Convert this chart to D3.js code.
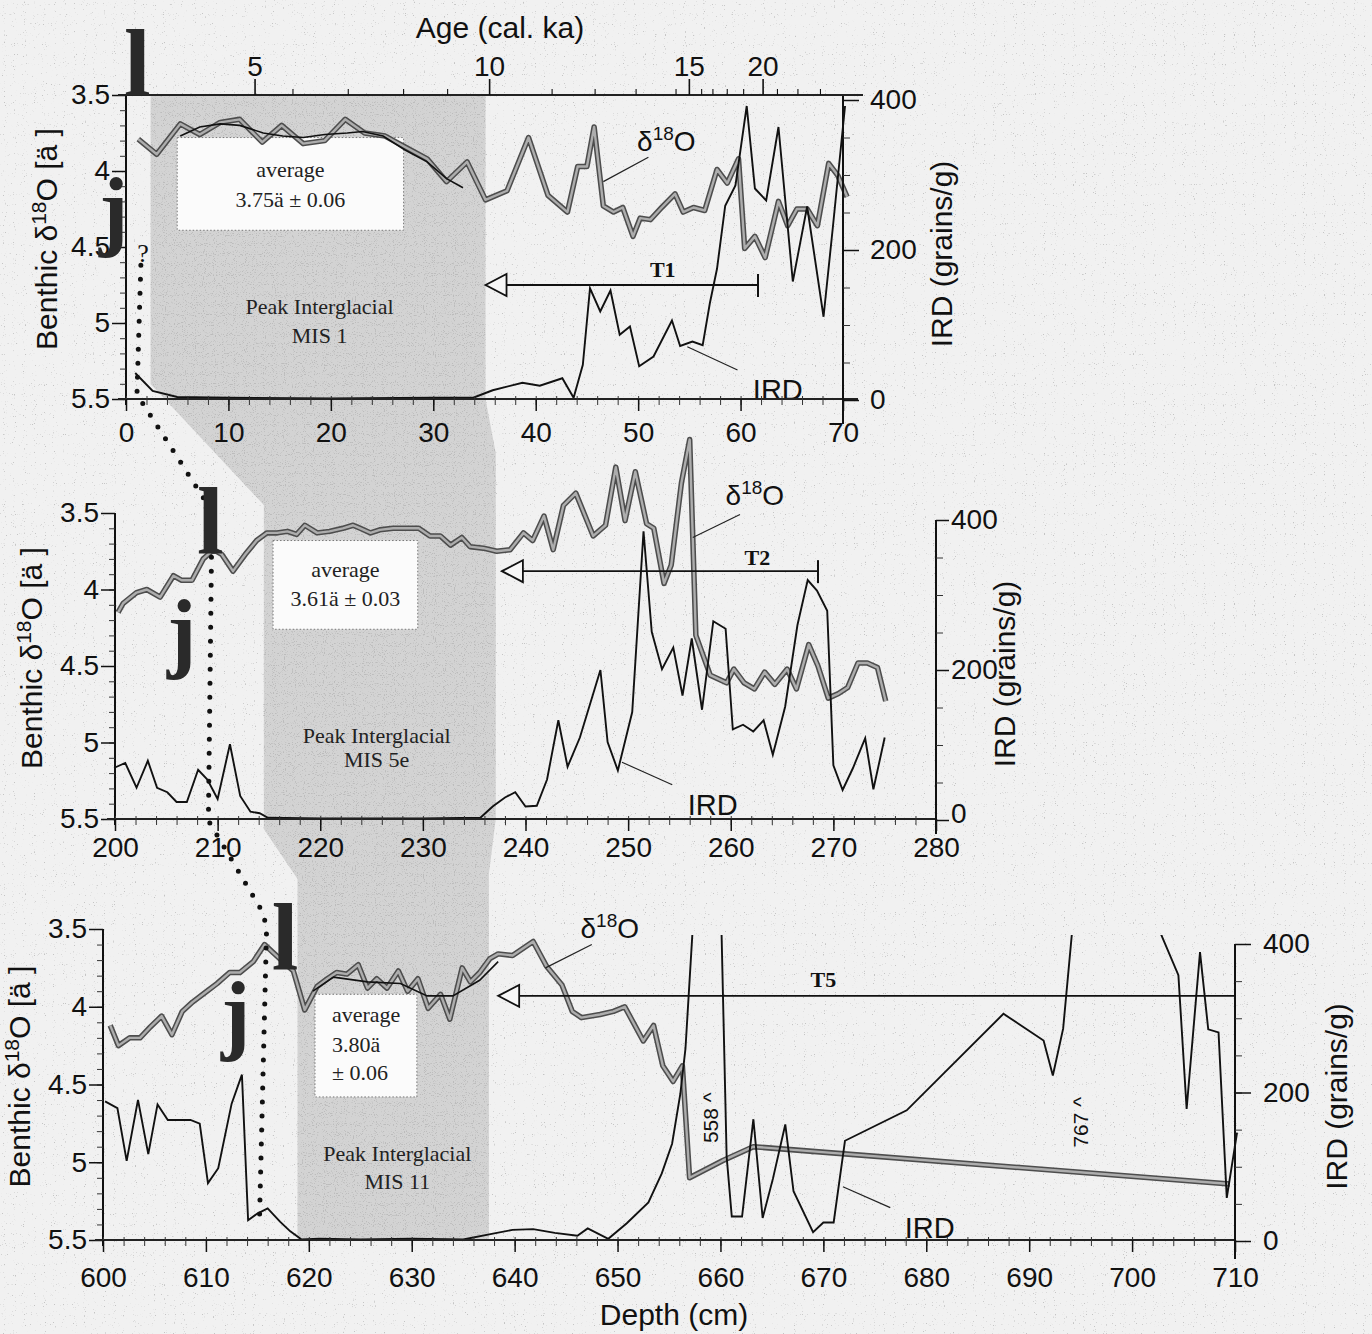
<!DOCTYPE html>
<html>
<head>
<meta charset="utf-8">
<script src="https://cdn.jsdelivr.net/npm/d3@7"></script>
<style>
  body { margin: 0; background: #f1f1f1; }
</style>
</head>
<body>
<div id="chart"></div>
<script>
// ---- data ----
// top panel: depth 0-70 cm, MIS 1
const topD18O = [[1.2,3.79],[3.0,3.89],[5.3,3.69],[7.2,3.76],[9.2,3.68],[11.1,3.66],[13.3,3.81],[15.2,3.70],[17.3,3.82],[19.4,3.80],[21.4,3.66],[23.3,3.75],[25.3,3.77],[27.2,3.84],[29.4,3.92],[31.3,4.07],[33.3,3.94],[35.1,4.19],[37.2,4.13],[39.3,3.78],[41.2,4.16],[43.1,4.27],[44.1,3.97],[45.0,3.97],[45.7,3.71],[46.6,4.23],[47.6,4.27],[48.5,4.24],[49.5,4.43],[50.2,4.31],[51.2,4.32],[52.3,4.24],[53.6,4.15],[54.4,4.27],[55.4,4.24],[56.5,4.26],[57.7,3.99],[58.7,4.08],[59.8,3.92],[60.4,4.51],[61.4,4.43],[62.4,4.57],[63.7,4.20],[64.6,4.36],[65.5,4.25],[66.5,4.25],[67.5,4.36],[68.6,3.95],[69.5,4.03],[70.4,4.17]];
const topSmooth = [[5.3,3.77],[7.2,3.71],[9.2,3.69],[11.1,3.70],[13.4,3.75],[15.3,3.77],[17.3,3.78],[19.4,3.76],[21.6,3.75],[23.1,3.74],[25.1,3.77],[27.2,3.86],[29.4,3.94],[31.3,4.05],[32.9,4.11]];
const topIRD = [[0.9,36],[2.6,12],[5,4],[10,3],[20,2],[30,3],[33.9,3],[35.8,13],[38.7,23],[40.4,19],[42.6,29],[43.7,3],[44.6,47],[45.3,149],[46.3,118],[47.3,146],[48.2,87],[49.2,98],[50.1,45],[51.5,58],[53.3,106],[54.1,72],[55.3,78],[56.3,73],[57.0,129],[57.7,175],[58.5,259],[59.5,286],[60.6,392],[61.4,282],[62.5,266],[63.7,364],[65.1,158],[66.5,258],[68.1,111],[69.0,229],[70.2,392]];

// middle panel: depth 200-280 cm, MIS 5e
const midD18O = [[200.3,4.15],[200.8,4.09],[202.1,4.02],[203.1,4.00],[204.4,4.05],[205.7,3.91],[206.5,3.94],[207.5,3.94],[208.6,3.80],[209.6,3.74],[210.4,3.77],[211.5,3.88],[212.7,3.77],[213.8,3.68],[214.8,3.63],[215.8,3.63],[216.8,3.62],[217.7,3.64],[218.5,3.58],[219.7,3.63],[220.9,3.62],[222.2,3.60],[223.2,3.58],[223.9,3.60],[224.9,3.63],[225.8,3.61],[227.1,3.60],[228.5,3.60],[229.6,3.60],[230.7,3.65],[231.7,3.65],[232.7,3.71],[233.8,3.66],[234.6,3.72],[235.9,3.73],[237.2,3.75],[238.5,3.74],[239.8,3.63],[240.7,3.68],[241.8,3.52],[242.7,3.74],[243.7,3.45],[244.9,3.37],[246.6,3.65],[247.8,3.58],[248.8,3.20],[249.7,3.55],[250.7,3.23],[251.8,3.57],[252.5,3.60],[253.5,3.96],[254.2,3.84],[255.2,3.30],[256.0,3.02],[256.6,4.30],[258.0,4.56],[259.6,4.61],[260.3,4.52],[261.3,4.61],[262.3,4.65],[263.3,4.54],[264.3,4.62],[265.5,4.52],[266.4,4.65],[267.6,4.36],[268.5,4.50],[269.5,4.71],[270.5,4.68],[271.4,4.64],[272.4,4.48],[273.3,4.48],[274.3,4.51],[275.1,4.73]];
const midIRD = [[200.0,70],[201.0,76],[202.1,43],[203.2,79],[204.1,43],[205.1,37],[206.0,24],[207.0,24],[208.1,67],[209.0,54],[210.0,28],[211.2,101],[212.2,32],[213.2,11],[214.1,9],[214.9,3],[220,2],[230,2],[235.6,3],[236.8,18],[238.0,30],[239.0,37],[240.0,18],[241.1,19],[242.1,54],[243.2,133],[244.1,71],[245.3,110],[247.3,200],[248.0,104],[249.0,66],[250.4,144],[251.5,385],[252.3,251],[253.3,201],[254.4,230],[255.3,166],[256.2,242],[257.2,147],[258.3,265],[259.5,255],[260.2,121],[261.2,127],[262.2,118],[263.2,133],[264.1,87],[265.3,151],[266.5,260],[267.5,320],[268.4,306],[269.4,279],[270.0,73],[270.9,40],[271.9,69],[273.1,109],[273.9,41],[275.0,110]];

// bottom panel: depth 600-710 cm, MIS 11
const botD18O = [[600.7,4.12],[601.5,4.25],[602.6,4.20],[603.6,4.20],[604.6,4.13],[605.7,4.06],[606.7,4.18],[607.7,4.03],[608.7,3.97],[609.9,3.91],[611.1,3.85],[612.3,3.78],[613.3,3.78],[614.6,3.71],[615.7,3.60],[616.5,3.65],[617.5,3.71],[618.5,3.77],[619.6,4.02],[620.8,3.87],[621.8,3.82],[622.7,3.78],[623.7,3.79],[624.8,3.73],[625.7,3.88],[626.6,3.82],[627.6,3.88],[628.7,3.77],[629.6,3.90],[630.6,3.82],[631.6,4.01],[632.8,3.92],[633.7,4.08],[634.9,3.75],[635.7,3.84],[636.6,3.78],[637.6,3.69],[638.4,3.66],[639.8,3.67],[641.8,3.58],[643.1,3.74],[644.6,3.86],[645.6,4.03],[646.5,4.07],[648.3,4.05],[649.6,4.03],[650.7,4.00],[652.5,4.22],[653.5,4.12],[654.4,4.38],[655.4,4.48],[656.3,4.38],[657.0,5.10],[660.2,4.99],[663.2,4.90],[709.5,5.14]];
const botSmooth = [[620.4,3.90],[622.4,3.81],[625.7,3.84],[628.9,3.85],[631.5,3.93],[634.0,3.93],[636.6,3.83],[638.4,3.71]];
const botIRD = [[600.2,188],[601.4,179],[602.3,108],[603.4,190],[604.4,117],[605.3,184],[606.3,163],[607.5,163],[608.5,163],[609.4,158],[610.2,78],[611.2,98],[612.5,185],[613.5,224],[614.1,28],[615.0,37],[616.0,44],[617.2,26],[618.2,13],[619.3,2],[621,3],[625,2],[630,3],[635,2],[637.9,10],[639.8,15],[641.8,16],[643.9,11],[646.1,7],[647.1,17],[649.1,3],[650.9,24],[653.0,52],[654.3,91],[655.3,131],[656.1,198],[656.6,259],[657.9,558],[660.0,480],[660.6,114],[661.1,33],[662.1,33],[663.2,164],[664.1,31],[665.1,84],[666.3,157],[667.1,67],[669.0,12],[670.0,25],[671.0,25],[672.1,135],[678.1,176],[687.5,306],[691.4,270],[692.3,223],[693.3,286],[696.5,767],[702.6,420],[704.5,358],[705.3,178],[706.6,389],[707.4,285],[708.4,281],[709.2,58],[710.2,146]];

// age model for the top axis (cal. ka -> depth cm)
const ageKa    = [5, 6, 7, 8, 9, 10, 11, 12, 13, 14, 15, 16, 17, 18, 19, 20, 21, 22, 23];
const ageDepth = [12.6, 16.3, 21.7, 27.1, 31.4, 35.5, 41.6, 45.8, 49.8, 53.7, 55.0, 56.2, 57.3, 58.7, 60.3, 62.2, 63.6, 65.6, 67.8];
const ageLabels = [5, 10, 15, 20];

const d18oTicks = [3.5, 4, 4.5, 5, 5.5];
const irdTicks = [0, 200, 400];

// per panel annotations
const shadeDepth = [[2.4, 35.1], [214.5, 237.1], [618.9, 637.5]];
const mis = ["MIS 1", "MIS 5e", "MIS 11"];
const misPos = [[18.9, 4.94, 5.13], [225.5, 5.0, 5.16], [628.6, 4.99, 5.17]];
const avgText = [["average", "3.75ä   ± 0.06"], ["average", "3.61ä   ± 0.03"], ["average", "3.80ä", "± 0.06"]];
const avgBox = [[5.0, 27.1, 3.78, 4.39], [215.4, 229.5, 3.68, 4.26], [620.6, 630.5, 3.92, 4.58]];
const termName = ["T1", "T2", "T5"];
const termTip = [35.1, 237.7, 638.4];
const termEnd = [61.7, 268.5, 710.0];
const termLevel = [4.75, 3.88, 3.93];
const termLabel = [[52.4, 4.70], [262.6, 3.84], [670.0, 3.87]];
const d18oLabel = [[49.9, 3.87], [259.5, 3.45], [646.4, 3.56]];
const d18oLeader = [[[51.0, 3.91], [46.6, 4.07]], [[260.9, 3.51], [256.3, 3.66]], [[647.5, 3.60], [643.0, 3.75]]];
const irdLabel = [[61.2, 0], [255.8, 7], [677.9, 4]];
const irdLeader = [[[59.7, 40], [54.8, 71]], [[254.3, 47], [249.4, 77]], [[676.5, 45], [671.9, 73]]];
const offScale = [[659.0, 166, "558 ^"], [694.9, 160, "767 ^"]];
// big "l" / "j" marks and the dotted tie line: [panel, depth, d18O]
const lMarks = [[0, 1.1, 3.5], [1, 209.3, 3.76], [2, 617.7, 3.76]];
const jMarks = [[0, -1.2, 4.45], [1, 206.5, 4.47], [2, 612.9, 4.23]];
const tieA = [[0, 1.45, 4.62], [0, 1.07, 5.47], [1, 208.8, 3.42]];
const tieB = [[1, 209.4, 3.79], [1, 209.1, 5.51], [2, 615.5, 3.39], [2, 615.9, 3.49], [2, 615.2, 5.38]];

// ---- layout ----
const panels = [
  { dom: [0, 70],    xr: [126, 843],  yr: [95, 399],   ir: [400, 100],  gap: 23, rtick: 16, rpad: 11, rtitle: 109, ltitle: 69, rlineTop: 95,  rlineExt: 24 },
  { dom: [200, 280], xr: [115, 936],  yr: [513, 819],  ir: [820, 520],  gap: 18, rtick: 13, rpad: 2,  rtitle: 79,  ltitle: 73, rlineTop: 520, rlineExt: 14 },
  { dom: [600, 710], xr: [103, 1235], yr: [929, 1240], ir: [1241, 944], gap: 27, rtick: 16, rpad: 12, rtitle: 112, ltitle: 73, rlineTop: 944, rlineExt: 18 }
];
const P = panels.map(p => Object.assign({}, p, {
  x: d3.scaleLinear().domain(p.dom).range(p.xr),
  y: d3.scaleLinear().domain([3.5, 5.5]).range(p.yr),
  yi: d3.scaleLinear().domain([0, 400]).range(p.ir)
}));

const sans = "'Liberation Sans', Arial, Helvetica, sans-serif";
const serif = "'Liberation Serif', 'Times New Roman', serif";

const svg = d3.select("#chart").append("svg")
  .attr("width", 1372).attr("height", 1334);

// scan grain: grey specks where the noise is low
const defs = svg.append("defs");
function grain(id, a, b, tone, seed) {
  const f = defs.append("filter").attr("id", id)
    .attr("x", 0).attr("y", 0).attr("width", "100%").attr("height", "100%");
  f.append("feTurbulence").attr("type", "fractalNoise").attr("baseFrequency", 0.9)
    .attr("numOctaves", 1).attr("seed", seed).attr("result", "n");
  f.append("feColorMatrix").attr("in", "n").attr("type", "matrix")
    .attr("values", `0 0 0 0 ${tone}  0 0 0 0 ${tone}  0 0 0 0 ${tone}  ${a} 0 0 0 ${b}`).attr("result", "dots");
  f.append("feComposite").attr("in", "dots").attr("in2", "SourceAlpha").attr("operator", "in").attr("result", "cd");
  const m = f.append("feMerge");
  m.append("feMergeNode").attr("in", "SourceGraphic");
  m.append("feMergeNode").attr("in", "cd");
}
grain("grainLight", -10, 3.3, 0.55, 3);
grain("grainDense", -8, 3.4, 0.5, 11);

svg.append("rect").attr("width", 1372).attr("height", 1334)
  .attr("fill", "#f1f1f1").attr("filter", "url(#grainLight)");

// shaded peak-interglacial band
const [p0, p1, p2] = P;
const sh = shadeDepth;
const shadePts = [
  [p0.x(sh[0][0]), p0.y(3.5)], [p0.x(sh[0][1]), p0.y(3.5)], [p0.x(sh[0][1]), p0.y(5.5)],
  [p1.x(sh[1][1]), p1.y(3.5) - 60], [p1.x(sh[1][1]), p1.y(5.5)],
  [p2.x(sh[2][1]), p2.y(3.5) - 55], [p2.x(sh[2][1]), p2.y(5.5)],
  [p2.x(sh[2][0]), p2.y(5.5)], [p2.x(sh[2][0]), p2.y(3.5) - 50],
  [p1.x(sh[1][0]), p1.y(5.5) + 10], [p1.x(sh[1][0]), p1.y(3.5) - 8],
  [p0.x(sh[0][0]), p0.y(5.5) - 15]
];
svg.append("polygon").attr("points", shadePts.map(d => d.join(",")).join(" "))
  .attr("fill", "#d3d3d3").attr("filter", "url(#grainDense)");

const d18oSets = [topD18O, midD18O, botD18O];
const irdSets = [topIRD, midIRD, botIRD];
const smoothSets = [topSmooth, null, botSmooth];

P.forEach((p, k) => {
  const g = svg.append("g");

  // average box
  const b = avgBox[k];
  g.append("rect")
    .attr("x", p.x(b[0])).attr("y", p.y(b[2]))
    .attr("width", p.x(b[1]) - p.x(b[0])).attr("height", p.y(b[3]) - p.y(b[2]))
    .attr("fill", "#fbfbfb").attr("stroke", "#777").attr("stroke-width", 1)
    .attr("stroke-dasharray", "1.5,2");
  const at = avgText[k];
  at.forEach((t, i) => {
    const cx = k === 2 ? p.x(b[0]) + 17 : (p.x(b[0]) + p.x(b[1])) / 2;
    const yy = k === 2 ? [4.10, 4.29, 4.47][i] : (k === 0 ? [4.04, 4.24][i] : [3.92, 4.11][i]);
    g.append("text").attr("x", cx).attr("y", p.y(yy))
      .attr("text-anchor", k === 2 ? "start" : "middle")
      .attr("font-family", serif).attr("font-size", 22).attr("fill", "#222")
      .text(t);
  });

  // peak interglacial text
  const mp = misPos[k];
  g.append("text").attr("x", p.x(mp[0])).attr("y", p.y(mp[1]))
    .attr("text-anchor", "middle").attr("font-family", serif).attr("font-size", 22)
    .attr("fill", "#222").text("Peak Interglacial");
  g.append("text").attr("x", p.x(mp[0])).attr("y", p.y(mp[2]))
    .attr("text-anchor", "middle").attr("font-family", serif).attr("font-size", 22)
    .attr("fill", "#222").text(mis[k]);

  // d18O line: grey core with dark rim
  const ld = d3.line().x(d => p.x(d[0])).y(d => p.y(d[1]));
  g.append("path").attr("d", ld(d18oSets[k])).attr("fill", "none")
    .attr("stroke", "#4d4d4d").attr("stroke-width", 5.5).attr("stroke-linejoin", "round");
  g.append("path").attr("d", ld(d18oSets[k])).attr("fill", "none")
    .attr("stroke", "#adadad").attr("stroke-width", 2.4).attr("stroke-linejoin", "round");
  if (smoothSets[k]) {
    g.append("path").attr("d", ld(smoothSets[k])).attr("fill", "none")
      .attr("stroke", "#111").attr("stroke-width", 1.6);
  }

  // IRD line (clipped just above 400)
  const cid = "clip" + k;
  defs.append("clipPath").attr("id", cid).append("rect")
    .attr("x", 0).attr("width", 1372)
    .attr("y", p.yi(412)).attr("height", 1334);
  const li = d3.line().x(d => p.x(d[0])).y(d => p.yi(d[1]));
  g.append("path").attr("d", li(irdSets[k])).attr("fill", "none")
    .attr("stroke", "#111").attr("stroke-width", 1.9).attr("stroke-linejoin", "miter")
    .attr("clip-path", `url(#${cid})`);

  // termination arrows
  const ty = p.y(termLevel[k]);
  const tx0 = p.x(termTip[k]), tx1 = p.x(termEnd[k]);
  g.append("line").attr("x1", tx0 + 20).attr("x2", tx1).attr("y1", ty).attr("y2", ty)
    .attr("stroke", "#111").attr("stroke-width", 1.8);
  g.append("line").attr("x1", tx1).attr("x2", tx1).attr("y1", ty - 11).attr("y2", ty + 12)
    .attr("stroke", "#111").attr("stroke-width", 2);
  g.append("path").attr("d", `M${tx0},${ty} L${tx0 + 21},${ty - 11} L${tx0 + 21},${ty + 11} Z`)
    .attr("fill", "#f7f7f7").attr("stroke", "#111").attr("stroke-width", 1.8);
  g.append("text").attr("x", p.x(termLabel[k][0])).attr("y", p.y(termLabel[k][1]))
    .attr("text-anchor", "middle").attr("font-family", serif).attr("font-weight", "bold")
    .attr("font-size", 22).attr("fill", "#111").text(termName[k]);

  // series labels with leaders
  const dl = d18oLabel[k];
  const tt = g.append("text").attr("x", p.x(dl[0])).attr("y", p.y(dl[1]))
    .attr("font-family", sans).attr("font-size", 28).attr("fill", "#111");
  tt.append("tspan").text("δ");
  tt.append("tspan").attr("font-size", 19).attr("dy", -11).text("18");
  tt.append("tspan").attr("dy", 11).text("O");
  const dlead = d18oLeader[k];
  g.append("line").attr("x1", p.x(dlead[0][0])).attr("y1", p.y(dlead[0][1]))
    .attr("x2", p.x(dlead[1][0])).attr("y2", p.y(dlead[1][1]))
    .attr("stroke", "#222").attr("stroke-width", 1.2);
  const il = irdLabel[k];
  g.append("text").attr("x", p.x(il[0])).attr("y", p.yi(il[1]))
    .attr("font-family", sans).attr("font-size", 29).attr("fill", "#111").text("IRD");
  const ilead = irdLeader[k];
  g.append("line").attr("x1", p.x(ilead[0][0])).attr("y1", p.yi(ilead[0][1]))
    .attr("x2", p.x(ilead[1][0])).attr("y2", p.yi(ilead[1][1]))
    .attr("stroke", "#222").attr("stroke-width", 1.2);

  // ---- axes ----
  const ax = svg.append("g").attr("font-family", sans);
  const xl = p.xr[0], xrr = p.xr[1];
  const yb = p.yr[1];

  // left d18O axis
  ax.append("line").attr("x1", xl).attr("x2", xl).attr("y1", p.yr[0]).attr("y2", yb + 6)
    .attr("stroke", "#111").attr("stroke-width", 2);
  const minL = d3.axisLeft(p.y).tickValues(d3.range(35, 56).map(v => v / 10)).tickSize(6).tickFormat("");
  ax.append("g").attr("transform", `translate(${xl},0)`).call(minL)
    .call(s => s.select(".domain").remove())
    .call(s => s.selectAll("line").attr("stroke", "#333"));
  const majL = d3.axisLeft(p.y).tickValues(d18oTicks).tickSize(14).tickPadding(2)
    .tickFormat(d => String(d));
  ax.append("g").attr("transform", `translate(${xl},0)`).call(majL)
    .call(s => s.select(".domain").remove())
    .call(s => s.selectAll("line").attr("stroke", "#111").attr("stroke-width", 1.5))
    .call(s => s.selectAll("text").attr("font-size", 28).attr("font-family", sans).attr("fill", "#111"));

  // bottom depth axis
  ax.append("line").attr("x1", xl - 8).attr("x2", k === 0 ? xrr + 15 : xrr).attr("y1", yb).attr("y2", yb)
    .attr("stroke", "#222").attr("stroke-width", 2.2);
  const minB = d3.axisBottom(p.x).tickValues(d3.range(p.dom[0], p.dom[1] + 1, 2)).tickSize(6).tickFormat("");
  ax.append("g").attr("transform", `translate(0,${yb})`).call(minB)
    .call(s => s.select(".domain").remove())
    .call(s => s.selectAll("line").attr("stroke", "#333").attr("y1", -3));
  const majB = d3.axisBottom(p.x).tickValues(d3.range(p.dom[0], p.dom[1] + 1, 10))
    .tickSize(12).tickPadding(p.gap - 12).tickFormat(d => String(d));
  ax.append("g").attr("transform", `translate(0,${yb})`).call(majB)
    .call(s => s.select(".domain").remove())
    .call(s => s.selectAll("line").attr("stroke", "#111").attr("stroke-width", 1.5))
    .call(s => s.selectAll("text").attr("font-size", 28).attr("font-family", sans).attr("fill", "#111"));

  // right IRD axis
  ax.append("line").attr("x1", xrr).attr("x2", xrr).attr("y1", p.rlineTop).attr("y2", p.yi(0) + p.rlineExt)
    .attr("stroke", "#111").attr("stroke-width", 2);
  const minR = d3.axisRight(p.yi).tickValues(d3.range(0, 401, 50)).tickSize(7).tickFormat("");
  ax.append("g").attr("transform", `translate(${xrr},0)`).call(minR)
    .call(s => s.select(".domain").remove())
    .call(s => s.selectAll("line").attr("stroke", "#333"));
  const majR = d3.axisRight(p.yi).tickValues(irdTicks).tickSize(p.rtick).tickPadding(p.rpad)
    .tickFormat(d => String(d));
  ax.append("g").attr("transform", `translate(${xrr},0)`).call(majR)
    .call(s => s.select(".domain").remove())
    .call(s => s.selectAll("line").attr("stroke", "#111").attr("stroke-width", 1.5))
    .call(s => s.selectAll("text").attr("font-size", 28).attr("font-family", sans).attr("fill", "#111")
      .attr("dy", d => (k === 1 && d === 0) ? "0.1em" : "0.32em"));

  // axis titles
  const cyL = (p.yr[0] + p.yr[1]) / 2 - 8;
  const lt = ax.append("text").attr("transform", `translate(${xl - p.ltitle},${cyL}) rotate(-90)`)
    .attr("text-anchor", "middle").attr("font-size", 30).attr("fill", "#111");
  lt.append("tspan").text("Benthic δ");
  lt.append("tspan").attr("font-size", 21).attr("dy", -11).text("18");
  lt.append("tspan").attr("dy", 11).text("O [ä ]");
  const cyR = (p.ir[0] + p.ir[1]) / 2 + 4;
  ax.append("text").attr("transform", `translate(${xrr + p.rtitle},${cyR}) rotate(-90)`)
    .attr("text-anchor", "middle").attr("font-size", 30).attr("fill", "#111")
    .text("IRD (grains/g)");
});

// top age axis (top panel)
const ageX = d3.scaleLinear().domain(ageKa).range(ageDepth);
const ta = svg.append("g").attr("font-family", sans);
ta.append("line").attr("x1", p0.xr[0] - 8).attr("x2", p0.xr[1] + 20)
  .attr("y1", p0.yr[0]).attr("y2", p0.yr[0]).attr("stroke", "#222").attr("stroke-width", 2.2);
ta.selectAll("line.age").data(ageKa).join("line").attr("class", "age")
  .attr("x1", d => p0.x(ageX(d))).attr("x2", d => p0.x(ageX(d)))
  .attr("y1", p0.yr[0]).attr("y2", d => p0.yr[0] - (ageLabels.includes(d) ? 16 : 6))
  .attr("stroke", "#111").attr("stroke-width", d => ageLabels.includes(d) ? 1.6 : 1.1);
ta.selectAll("text.age").data(ageLabels).join("text").attr("class", "age")
  .attr("x", d => p0.x(ageX(d))).attr("y", p0.yr[0] - 19)
  .attr("text-anchor", "middle").attr("font-size", 28).attr("fill", "#111").text(d => d);
ta.append("text").attr("x", 500).attr("y", 38).attr("text-anchor", "middle")
  .attr("font-size", 30).attr("fill", "#111").text("Age (cal. ka)");

// depth title
svg.append("text").attr("x", (p2.x(650) + p2.x(660)) / 2 + 5).attr("y", 1325)
  .attr("text-anchor", "middle").attr("font-family", sans).attr("font-size", 30)
  .attr("fill", "#111").text("Depth (cm)");

// off-scale IRD values
offScale.forEach(o => {
  svg.append("text").attr("transform", `translate(${p2.x(o[0]) + 8},${p2.yi(o[1])}) rotate(-90)`)
    .attr("text-anchor", "middle").attr("font-family", sans).attr("font-size", 21)
    .attr("fill", "#111").text(o[2]);
});

// dotted tie lines and l / j marks
const pt = d => [P[d[0]].x(d[1]), P[d[0]].y(d[2])];
[tieA, tieB].forEach(t => {
  svg.append("path").attr("d", d3.line()(t.map(pt))).attr("fill", "none")
    .attr("stroke", "#111").attr("stroke-width", 5).attr("stroke-linecap", "round")
    .attr("stroke-dasharray", "0,14");
});
svg.append("text").attr("x", p0.x(1.66)).attr("y", p0.y(4.6)).attr("text-anchor", "middle")
  .attr("font-family", serif).attr("font-size", 26).attr("fill", "#111").text("?");
lMarks.forEach(m => {
  svg.append("text").attr("x", P[m[0]].x(m[1])).attr("y", P[m[0]].y(m[2]))
    .attr("text-anchor", "middle").attr("font-family", serif).attr("font-weight", "bold")
    .attr("font-size", 96).attr("fill", "#2a2a2a").text("l");
});
jMarks.forEach(m => {
  svg.append("text").attr("x", P[m[0]].x(m[1])).attr("y", P[m[0]].y(m[2]))
    .attr("text-anchor", "middle").attr("font-family", serif).attr("font-weight", "bold")
    .attr("font-size", 88).attr("fill", "#2a2a2a").text("j");
});
</script>
</body>
</html>
